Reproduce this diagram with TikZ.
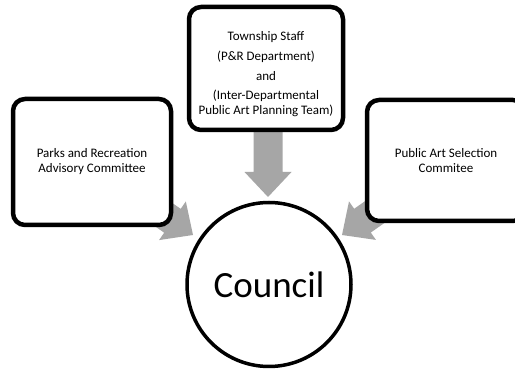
\documentclass[tikz,border=0pt]{standalone}
\usepackage{fontspec}
\setmainfont{Carlito}
\begin{document}
\begin{tikzpicture}[x=1pt,y=1pt,
  box/.style={draw=black, line width=4.5pt, rounded corners=12pt, fill=white, align=center, inner sep=0pt,
    font=\fontsize{13}{15}\selectfont},
  council/.style={draw=black, line width=3.5pt, circle, fill=white, minimum size=164pt, inner sep=0pt,
    font=\fontsize{37}{40}\selectfont},
  blockarrow/.style={fill=arrowgray, draw=none}]
\definecolor{arrowgray}{HTML}{A6A6A6}
\clip (0,0) rectangle (515,370);
\fill[white] (0,0) rectangle (515,370);
% arrows (drawn behind)
\coordinate (tipT) at (268,173);
\coordinate (tipL) at (193,135);
\coordinate (tipR) at (342,135);
\foreach \t/\a in {tipT/-90, tipL/-34.7, tipR/215}{
  \begin{scope}[shift={(\t)}, rotate=\a]
    \fill[blockarrow] (0,0) -- (-25,23.5) -- (-25,14.5) -- (-90,14.5) -- (-90,-14.5) -- (-25,-14.5) -- (-25,-23.5) -- cycle;
  \end{scope}
}
\node[box, minimum width=158pt, minimum height=126pt] (parks) at (92,208)
  {Parks and Recreation\\Advisory Committee};
\node[box, minimum width=154pt, minimum height=123pt] (staff) at (266,301.5)
  {\rule{0pt}{20pt}Township Staff\\[5pt](P\&R Department)\\[5pt]and\\[4pt](Inter-Departmental\\Public Art Planning Team)};
\node[box, minimum width=158pt, minimum height=121pt] (select) at (446,209.5)
  {Public Art Selection\\Commitee};
\node[council] (council) at (269,85.5) {Council};
\end{tikzpicture}
\end{document}
